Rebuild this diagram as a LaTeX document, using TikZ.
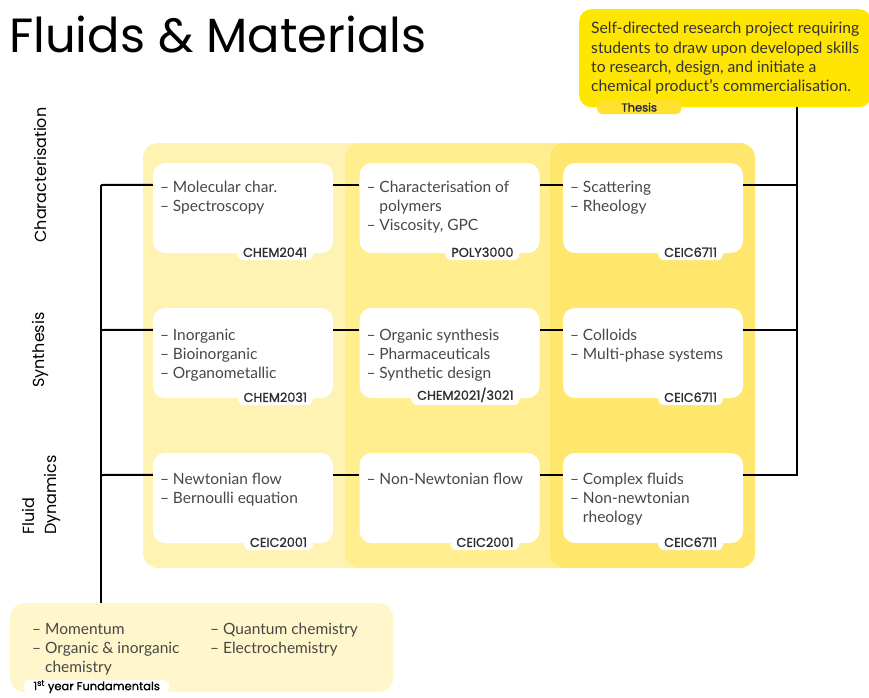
\documentclass[tikz,border=0pt]{standalone}
\usepackage{fontspec}
\setmainfont{Lato}
\newfontfamily\pop{Poppins}
\newfontfamily\popsb{Poppins}[FakeBold=1.2]
\usetikzlibrary{calc}
\definecolor{pone}{HTML}{FFF3B3}
\definecolor{ptwo}{HTML}{FFED8E}
\definecolor{pthree}{HTML}{FFE66C}
\definecolor{thesisY}{HTML}{FFE600}
\definecolor{thesisTab}{HTML}{FFE22E}
\definecolor{fundY}{HTML}{FFF6CC}
\definecolor{txt}{HTML}{474747}
\begin{document}
\begin{tikzpicture}[x=1pt,y=-1pt,
  card/.style={fill=white, rounded corners=12pt, minimum width=180pt, minimum height=90pt, inner sep=0pt},
  item/.style={anchor=north west, inner sep=0pt, align=left, text=txt, font=\fontsize{15.5}{19}\selectfont},
  codetab/.style={fill=white, rounded corners=6pt, inner xsep=6pt, inner ysep=3pt, anchor=south east, text=black!82, font=\popsb\fontsize{12.8}{13}\selectfont},
  side/.style={rotate=90, align=left, inner sep=0pt, text=black, font=\pop\fontsize{16}{22}\selectfont},
  link/.style={line width=2pt, black}]
\useasboundingbox (0,0) rectangle (869,697);

% title
\node[anchor=base west, inner sep=0pt, font=\pop\fontsize{48}{50}\selectfont] (title) at (9,52) {Fluids \& Materials};

% panels
\fill[pone, rounded corners=15pt] (143,143) rectangle (370,568);
\fill[ptwo, rounded corners=15pt] (345,143) rectangle (575,568);
\fill[pthree, rounded corners=15pt] (550,143) rectangle (755,568);

% cards
\foreach \c/\x in {1/243, 2/449.5, 3/653}{
  \foreach \r/\y in {1/208, 2/353, 3/498}{
    \node[card] (c\r\c) at (\x,\y) {};
  }
}

% items
\node[item] (t11) at ($(c11.north west)+(7,18)$) {– Molecular char.\\– Spectroscopy};
\node[item] (t12) at ($(c12.north west)+(7,18)$) {– Characterisation of\\\phantom{– }polymers\\– Viscosity, GPC};
\node[item] (t13) at ($(c13.north west)+(7,18)$) {– Scattering\\– Rheology};
\node[item] (t21) at ($(c21.north west)+(7,21)$) {– Inorganic\\– Bioinorganic\\– Organometallic};
\node[item] (t22) at ($(c22.north west)+(7,21)$) {– Organic synthesis\\– Pharmaceuticals\\– Synthetic design};
\node[item] (t23) at ($(c23.north west)+(7,21)$) {– Colloids\\– Multi-phase systems};
\node[item] (t31) at ($(c31.north west)+(7,20)$) {– Newtonian flow\\– Bernoulli equation};
\node[item] (t32) at ($(c32.north west)+(7,20)$) {– Non-Newtonian flow};
\node[item] (t33) at ($(c33.north west)+(7,20)$) {– Complex fluids\\– Non-newtonian\\\phantom{– }rheology};

% code tabs
\node[codetab] (k11) at ($(c11.south east)+(-20,7)$) {CHEM2041};
\node[codetab] (k12) at ($(c12.south east)+(-20,7)$) {POLY3000};
\node[codetab] (k13) at ($(c13.south east)+(-20,7)$) {CEIC6711};
\node[codetab] (k21) at ($(c21.south east)+(-20,7)$) {CHEM2031};
\node[codetab] (k22) at ($(c22.south east)+(-20,7)$) {CHEM2021/3021};
\node[codetab] (k23) at ($(c23.south east)+(-20,7)$) {CEIC6711};
\node[codetab] (k31) at ($(c31.south east)+(-20,7)$) {CEIC2001};
\node[codetab] (k32) at ($(c32.south east)+(-20,7)$) {CEIC2001};
\node[codetab] (k33) at ($(c33.south east)+(-20,7)$) {CEIC6711};

% row link coordinates
\foreach \r in {1,2,3}{
  \foreach \c in {1,2,3}{
    \coordinate (w\r\c) at ($(c\r\c.north west)+(0,22)$);
    \coordinate (e\r\c) at ($(c\r\c.north east)+(0,22)$);
  }
}
\foreach \r in {1,2,3}{
  \draw[link] (e\r1) -- (w\r2);
  \draw[link] (e\r2) -- (w\r3);
}

% side labels
\node[side] (sChar) at (40,175) {Characterisation};
\node[side] (sSyn) at (40,350) {Synthesis};
\node[side] (sFl) at (41,495) {Fluid\\Dynamics};

% fundamentals
\node[fill=fundY, rounded corners=14pt, minimum width=383pt, minimum height=89pt, inner sep=0pt, anchor=north west] (fund) at (10,603) {};
\node[item] (f1) at ($(fund.north west)+(22,20)$) {– Momentum\\– Organic \& inorganic\\\phantom{– }chemistry};
\node[item] (f2) at ($(fund.north west)+(200,20)$) {– Quantum chemistry\\– Electrochemistry};
\node[fill=white, rounded corners=5pt, minimum width=145pt, minimum height=13pt, inner sep=0pt, anchor=north west, font=\popsb\fontsize{11.5}{12}\selectfont, text=black] (ftab) at (24,680) {1\textsuperscript{st} year Fundamentals};

% left spine
\coordinate (sp1) at (101,185);
\coordinate (sp2) at (101,330);
\coordinate (sp3) at (101,475);
\draw[link] (sp1) -- (sp1 |- fund.north);
\draw[link] (sp1) -- (w11);
\draw[link] (sp2) -- (w21);
\draw[link] (sp3) -- (w31);

% thesis
\node[fill=thesisY, rounded corners=12pt, minimum width=292pt, minimum height=98pt, inner sep=0pt, anchor=north west] (thesis) at (579,9) {};
\node[item, text=black!80, font=\fontsize{15.7}{19.4}\selectfont] (ttext) at (591,22) {Self-directed research project requiring\\students to draw upon developed skills\\to research, design, and initiate a\\chemical product’s commercialisation.};
\node[fill=thesisTab, rounded corners=5pt, minimum width=84pt, minimum height=14pt, inner sep=0pt, anchor=north west, font=\popsb\fontsize{11.5}{12}\selectfont, text=black!85] (ttab) at (597,100) {Thesis};

% right spine
\coordinate (rx) at (797,0);
\draw[link] (thesis.south -| rx) -- (rx |- e31) -- (e33);
\draw[link] (e13) -- (rx |- e13);
\draw[link] (e23) -- (rx |- e23);
\end{tikzpicture}
\end{document}
